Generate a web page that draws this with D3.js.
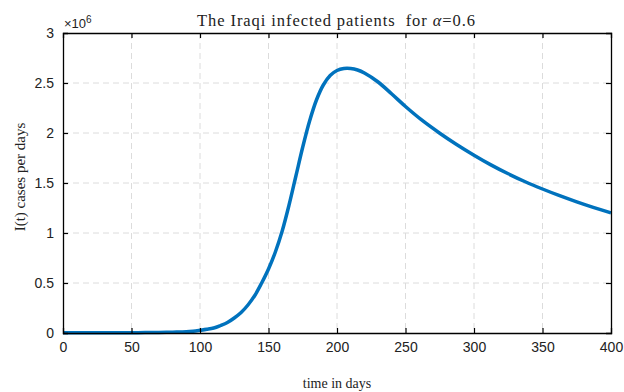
<!DOCTYPE html>
<html><head><meta charset="utf-8">
<script src="https://cdn.jsdelivr.net/npm/d3@7"></script>
<style>body{margin:0;background:#fff}svg{display:block}</style>
</head><body>
<script>
const days = [0,10,20,30,40,50,60,70,80,90,95,100,105,110,115,120,125,130,135,140,145,150,155,160,165,170,175,180,185,190,195,200,205,210,215,220,230,240,250,262,275,287,300,312,325,337,350,362,375,387,400];
const infected = [0.003,0.003,0.003,0.003,0.003,0.003,0.004,0.005,0.008,0.012,0.018,0.027,0.037,0.05,0.075,0.105,0.15,0.205,0.28,0.375,0.5,0.64,0.81,1.02,1.28,1.57,1.86,2.12,2.33,2.48,2.575,2.625,2.645,2.645,2.63,2.60,2.51,2.39,2.265,2.128,1.998,1.888,1.778,1.684,1.592,1.515,1.440,1.376,1.312,1.257,1.201];
const xTicks = [0,50,100,150,200,250,300,350,400];
const yTicks = [0,0.5,1,1.5,2,2.5,3];

const W=624,H=392, L=63, R=611, T=33, B=333;
const svg=d3.select("body").append("svg").attr("width",W).attr("height",H);
const x=d3.scaleLinear().domain([0,400]).range([L,R]);
const y=d3.scaleLinear().domain([0,3]).range([B,T]);

// grid
const g=svg.append("g");
g.selectAll(".vg").data(xTicks.slice(1,-1)).join("line")
 .attr("x1",d=>x(d)).attr("x2",d=>x(d)).attr("y1",T).attr("y2",B)
 .attr("stroke","#dcdcdc").attr("stroke-width",1).attr("stroke-dasharray","6,4");
g.selectAll(".hg").data(yTicks.slice(1,-1)).join("line")
 .attr("y1",d=>y(d)).attr("y2",d=>y(d)).attr("x1",L).attr("x2",R)
 .attr("stroke","#dcdcdc").attr("stroke-width",1).attr("stroke-dasharray","6,4");

// curve
svg.append("path").datum(days.map((d,i)=>[d,infected[i]]))
 .attr("d",d3.line().x(d=>x(d[0])).y(d=>y(d[1])).curve(d3.curveCatmullRom.alpha(0.5)))
 .attr("fill","none").attr("stroke","#0072BD").attr("stroke-width",3.5);

// axes
const font="Liberation Sans, Arial, sans-serif";
const bx=svg.append("g").attr("transform",`translate(0,${B})`).call(d3.axisBottom(x).tickValues(xTicks).tickSize(-5).tickPadding(9).tickFormat(d3.format("d")));
const tx=svg.append("g").attr("transform",`translate(0,${T})`).call(d3.axisTop(x).tickValues(xTicks).tickSize(-5).tickFormat(""));
const ly=svg.append("g").attr("transform",`translate(${L},0)`).call(d3.axisLeft(y).tickValues(yTicks).tickSize(-5).tickPadding(9).tickFormat(d=>d));
const ry=svg.append("g").attr("transform",`translate(${R},0)`).call(d3.axisRight(y).tickValues(yTicks).tickSize(-5).tickFormat(""));
[bx,tx,ly,ry].forEach(a=>{
  a.select(".domain").attr("stroke","#000").attr("stroke-width",1.3);
  a.selectAll(".tick line").attr("stroke","#000").attr("stroke-width",1.2);
  a.selectAll("text").attr("font-family",font).attr("font-size",14).attr("fill","#222");
});
ly.selectAll(".tick").filter(d=>d===0||d===3).select("line").remove();
bx.selectAll(".tick").filter(d=>d===0||d===400).select("line").remove();
tx.selectAll(".tick").filter(d=>d===0||d===400).select("line").remove();
ry.selectAll(".tick").filter(d=>d===0||d===3).select("line").remove();

// exponent
const ex=svg.append("text").attr("x",64).attr("y",28).attr("font-family",font).attr("font-size",13).attr("fill","#222");
ex.append("tspan").text("\u00d710");
ex.append("tspan").attr("dy",-5).attr("font-size",10).text("6");

// title
const serif="Liberation Serif, Times New Roman, serif";
const t=svg.append("text").attr("x",197).attr("y",26).attr("font-family",serif).attr("font-size",16.5).attr("fill","#222")
  .attr("textLength",278).attr("lengthAdjust","spacing").attr("xml:space","preserve");
t.append("tspan").text("The Iraqi infected patients  for ");
t.append("tspan").attr("font-style","italic").text("\u03b1");
t.append("tspan").text("=0.6");

svg.append("text").attr("x",337).attr("y",388).attr("text-anchor","middle").attr("font-family",serif).attr("font-size",14).attr("fill","#222").text("time in days");
svg.append("text").attr("transform","translate(25,177) rotate(-90)").attr("text-anchor","middle").attr("font-family",serif).attr("font-size",15).attr("fill","#222").text("I(t) cases per days");
</script>
</body></html>
